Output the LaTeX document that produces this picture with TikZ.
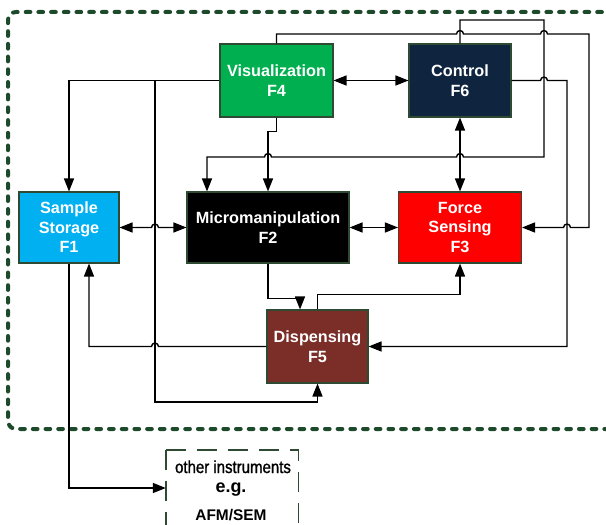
\documentclass[tikz,border=0pt]{standalone}
\usepackage{fontspec}
\setmainfont{Liberation Sans}
\newfontfamily\narrowfont[FakeStretch=0.86,FakeBold=1.2]{Liberation Sans}
\usetikzlibrary{arrows.meta}
\definecolor{vgreen}{HTML}{00B050}
\definecolor{cnavy}{HTML}{0F243E}
\definecolor{sblue}{HTML}{00B0F0}
\definecolor{fred}{HTML}{FF0000}
\definecolor{dbrown}{HTML}{7A2E27}
\definecolor{boxedge}{HTML}{2E4A32}
\definecolor{framegreen}{HTML}{1E4A2C}
\newcommand\hopR[2]{-- ({#1-3.5},#2) .. controls ({#1-3.5},{#2-4.5}) and ({#1+3.5},{#2-4.5}) .. ({#1+3.5},#2)}
\newcommand\hopL[2]{-- ({#1+3.5},#2) .. controls ({#1+3.5},{#2-4.5}) and ({#1-3.5},{#2-4.5}) .. ({#1-3.5},#2)}
\begin{document}
\begin{tikzpicture}[x=1bp,y=-1bp,
  fbox/.style={draw=boxedge, line width=1.1bp, inner sep=0pt, text=white,
    font=\fontsize{16.3}{19.5}\selectfont\bfseries, align=center},
  conn/.style={line width=1.4bp, draw=black, >={Triangle[length=13bp,width=10bp]}},
  frame/.style={draw=framegreen, line width=4bp, line cap=round, dash pattern=on 4.7bp off 8bp},
  othborder/.style={draw=boxedge, line width=1.4bp, dash pattern=on 20bp off 11bp}]
\clip (0,0) rectangle (606,525);
\useasboundingbox (0,0) rectangle (606,525);
\fill[white] (0,0) rectangle (606,525);

% outer dashed frame
\draw[frame, rounded corners=8bp] (640,12) -- (8,12) -- (8,429) -- (640,429);

% function boxes
\node[fbox, fill=vgreen, minimum width=113bp, minimum height=73bp] (F4) at (276.5,80.5) {Visualization\\F4};
\node[fbox, fill=cnavy, minimum width=102bp, minimum height=73bp] (F6) at (460,80.5) {Control\\F6};
\node[fbox, fill=sblue, minimum width=100bp, minimum height=71bp] (F1) at (69,227.5) {Sample\\Storage\\F1};
\node[fbox, fill=black, minimum width=162bp, minimum height=71bp] (F2) at (268,227.5) {Micromanipulation\\F2};
\node[fbox, fill=fred, minimum width=123bp, minimum height=71bp] (F3) at (460,227.5) {Force\\Sensing\\F3};
\node[fbox, fill=dbrown, minimum width=101bp, minimum height=73bp] (F5) at (317.5,346.5) {Dispensing\\F5};

% other instruments box
\node[inner sep=0pt, minimum width=132bp, minimum height=76bp] (oth) at (232,488) {};
\draw[othborder] (oth.north west) -- (oth.south west);
\draw[othborder] (oth.north west) -- (oth.north east) -- (oth.south east);
\node[anchor=base, inner sep=0pt, font=\narrowfont\fontsize{17.5}{19}\selectfont] (othA) at (233,473) {other instruments};
\node[anchor=base, inner sep=0pt, font=\fontsize{18}{19}\selectfont\bfseries] (othB) at (231,492) {e.g.};
\node[anchor=base, inner sep=0pt, font=\fontsize{15.5}{19}\selectfont\bfseries] (othC) at (231,520) {AFM/SEM};

% connectors
\draw[conn,->] (F4.west) -| (F1.north);
\coordinate (j1) at (155,80.5);
\draw[conn,->] (j1) -- (155,402) -| (F5.south);
\draw[conn,<->] (F1.east) \hopR{155}{227.5} -- (F2.west);
\draw[conn,->] (F4.south) -- ++(0,14) -| (F2.north);
\draw[conn,->] (F6.north) -- (460,20) -- (544,20) -- (544,157) \hopL{460}{157} \hopL{268}{157} -| ([xshift=-61bp]F2.north);
\draw[conn,->] (F4.north) -- (276.5,34) \hopR{460}{34} \hopR{544}{34} -- (589,34) -- (589,227.5) \hopL{567}{227.5} -- (F3.east);
\draw[conn,<->] (F4.east) -- (F6.west);
\draw[conn,->] (F6.east) \hopR{544}{80.5} -- (567,80.5) |- (F5.east);
\draw[conn,<->] (F6.south) -- (F3.north);
\draw[conn,<->] (F2.east) -- (F3.west);
\draw[conn,->] (F2.south) -- ++(0,35) -| ([xshift=-17.5bp]F5.north);
\draw[conn,->] (F5.north) -- ++(0,-15) -| (F3.south);
\draw[conn,->] (F5.west) \hopL{155}{346.5} -| ([xshift=20bp]F1.south);
\draw[conn,->] (F1.south) |- (oth.west);
\end{tikzpicture}
\end{document}
